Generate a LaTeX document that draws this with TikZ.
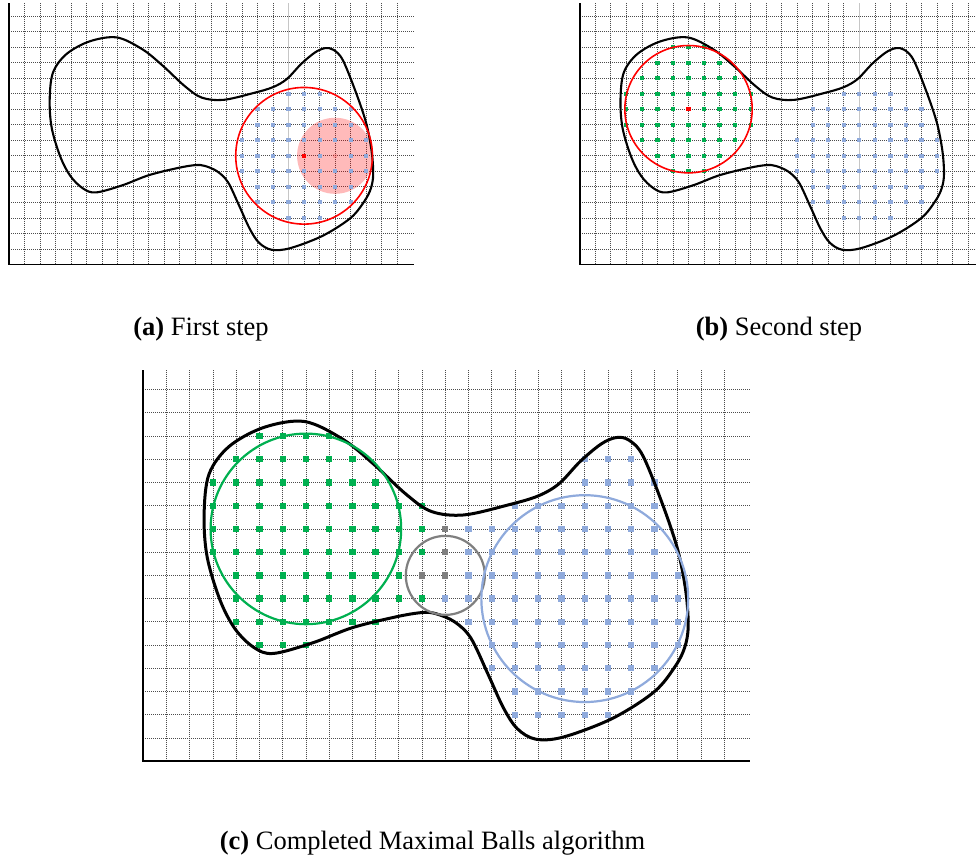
\documentclass[tikz,border=0pt]{standalone}
\usepackage{fontspec}
\setmainfont{Liberation Serif}
\definecolor{mgreen}{HTML}{00B050}
\definecolor{mblue}{HTML}{8FAADC}
\definecolor{mgray}{HTML}{7F7F7F}
\tikzset{
  gridline/.style={draw=black!70, line width=0.75pt, dash pattern=on 1pt off 1pt},
  captiontext/.style={anchor=base, inner sep=0pt, font=\fontsize{26.5}{30}\selectfont},
}
\newcommand\dgrid{%
  \foreach \i in {1,...,25} {\draw[gridline] (\i,0) -- (\i,16.83);}
  \foreach \j in {1,...,16} {\draw[gridline] (0,\j) -- (26.1,\j);}
}
\newcommand\drow[4]{\foreach \xx in {#2,...,#3} {\fill[#4] (\xx-0.135,#1-0.135) rectangle ++(0.27,0.27);}}
\newcommand\dpt[3]{\fill[#3] (#1-0.135,#2-0.135) rectangle ++(0.27,0.27);}
\newcommand\drawblob[1]{%
  \draw[#1] plot[smooth cycle, tension=0.55] coordinates {
    (6.95,14.62) (8.6,13.85) (9.9,12.8) (11.3,11.5) (12.4,10.75) (13.8,10.6)
    (15.7,11.03) (17.0,11.42) (17.9,11.95) (18.8,12.9) (19.7,13.65) (20.35,13.93)
    (20.9,13.82) (21.5,13.15) (22.35,11.05) (23.0,9.1) (23.35,7.3) (23.45,5.8)
    (23.3,4.9) (22.9,4.1) (22.0,3.0) (20.2,1.85) (18.1,1.05) (16.9,0.95)
    (16.1,1.4) (15.5,2.3) (14.85,3.72) (14.1,5.3) (13.4,6.0) (12.6,6.35)
    (12.0,6.4) (10.9,6.22) (9.0,5.75) (7.3,5.1) (5.6,4.64) (4.76,4.9)
    (3.95,5.7) (3.3,6.95) (2.75,8.8) (2.62,10.6) (2.83,12.35) (3.7,13.55) (5.2,14.37)
  };}
\begin{document}
\begin{tikzpicture}[x=1pt,y=1pt]
\clip (0,0) rectangle (976,860);
\fill[white] (0,0) rectangle (976,860);

% ---------------- panel (a)
\begin{scope}[shift={(9pt,595.5pt)}, x=15.53pt, y=15.53pt]
  \dgrid
  \draw[gray!45, line width=1pt] (18,0) -- (18,16.83);
  \draw[black, line width=1.6pt] (0,16.83) -- (0,0) -- (26.1,0);
  \fill[red, fill opacity=0.27] (21,7) circle (2.45);
  \drow{11}{18}{20}{mblue}
  \drow{10}{16}{22}{mblue}
  \drow{9}{16}{22}{mblue}
  \drow{8}{15}{23}{mblue}
  \drow{7}{15}{18}{mblue}
  \dpt{20}{7}{mblue}
  \dpt{22}{7}{mblue}
  \dpt{23}{7}{mblue}
  \drow{6}{15}{23}{mblue}
  \drow{5}{16}{22}{mblue}
  \drow{4}{16}{22}{mblue}
  \drow{3}{18}{20}{mblue}
  \dpt{19}{7}{red}
  \fill[red, fill opacity=0.15] (21-0.135,7-0.135) rectangle ++(0.27,0.27);
  \drawblob{black, line width=2.1pt}
  \draw[red, line width=1.6pt] (19,7) circle (4.4);
\end{scope}
\node[captiontext] (capa) at (201,524) {\textbf{(a)} First step};

% ---------------- panel (b)
\begin{scope}[shift={(579.8pt,595.5pt)}, x=15.53pt, y=15.53pt]
  \dgrid
  \draw[gray!45, line width=1pt] (18,0) -- (18,16.83);
  \draw[black, line width=1.6pt] (0,16.83) -- (0,0) -- (26.1,0);
  \drow{14}{6}{8}{mgreen}
  \drow{13}{5}{9}{mgreen}
  \drow{12}{4}{10}{mgreen}
  \drow{11}{3}{11}{mgreen}
  \drow{10}{3}{6}{mgreen}
  \drow{10}{8}{11}{mgreen}
  \dpt{7}{10}{red}
  \drow{9}{3}{11}{mgreen}
  \drow{8}{4}{10}{mgreen}
  \drow{7}{5}{9}{mgreen}
  \drow{6}{6}{8}{mgreen}
  \drow{11}{17}{20}{mblue}
  \drow{10}{15}{22}{mblue}
  \drow{9}{15}{22}{mblue}
  \drow{8}{14}{23}{mblue}
  \drow{7}{14}{23}{mblue}
  \drow{6}{14}{23}{mblue}
  \drow{5}{15}{22}{mblue}
  \drow{4}{15}{22}{mblue}
  \drow{3}{17}{20}{mblue}
  \drawblob{black, line width=2.1pt}
  \draw[red, line width=1.6pt] (7,10) circle (4.1);
\end{scope}
\node[captiontext] (capb) at (779,524) {\textbf{(b)} Second step};

% ---------------- panel (c)
\begin{scope}[shift={(143.2pt,98.7pt)}, x=23.24pt, y=23.24pt]
  \dgrid
  \draw[black, line width=2pt] (0,16.83) -- (0,0) -- (26.1,0);
  \drow{14}{5}{8}{mgreen}
  \drow{13}{4}{9}{mgreen}
  \drow{12}{3}{10}{mgreen}
  \drow{11}{3}{12}{mgreen}
  \drow{10}{3}{12}{mgreen}
  \drow{9}{3}{12}{mgreen}
  \drow{8}{4}{11}{mgreen}
  \drow{7}{4}{12}{mgreen}
  \drow{6}{4}{10}{mgreen}
  \drow{5}{5}{7}{mgreen}
  \dpt{13}{10}{mgray}
  \dpt{13}{9}{mgray}
  \dpt{12}{8}{mgray}
  \dpt{13}{8}{mgray}
  \drow{13}{19}{21}{mblue}
  \drow{12}{19}{22}{mblue}
  \drow{11}{16}{22}{mblue}
  \drow{10}{14}{22}{mblue}
  \drow{9}{14}{22}{mblue}
  \drow{8}{14}{23}{mblue}
  \drow{7}{13}{23}{mblue}
  \drow{6}{14}{23}{mblue}
  \drow{5}{15}{23}{mblue}
  \drow{4}{15}{22}{mblue}
  \drow{3}{16}{21}{mblue}
  \drow{2}{16}{20}{mblue}
  \drawblob{black, line width=3pt}
  \draw[mgreen, line width=2.2pt] (7,10) circle (4.1);
  \draw[mgray, line width=2.2pt] (13,8) circle (1.7);
  \draw[mblue, line width=2.2pt] (19,7) circle (4.45);
\end{scope}
\node[captiontext] (capc) at (432.5,11) {\textbf{(c)} Completed Maximal Balls algorithm};
\end{tikzpicture}
\end{document}
